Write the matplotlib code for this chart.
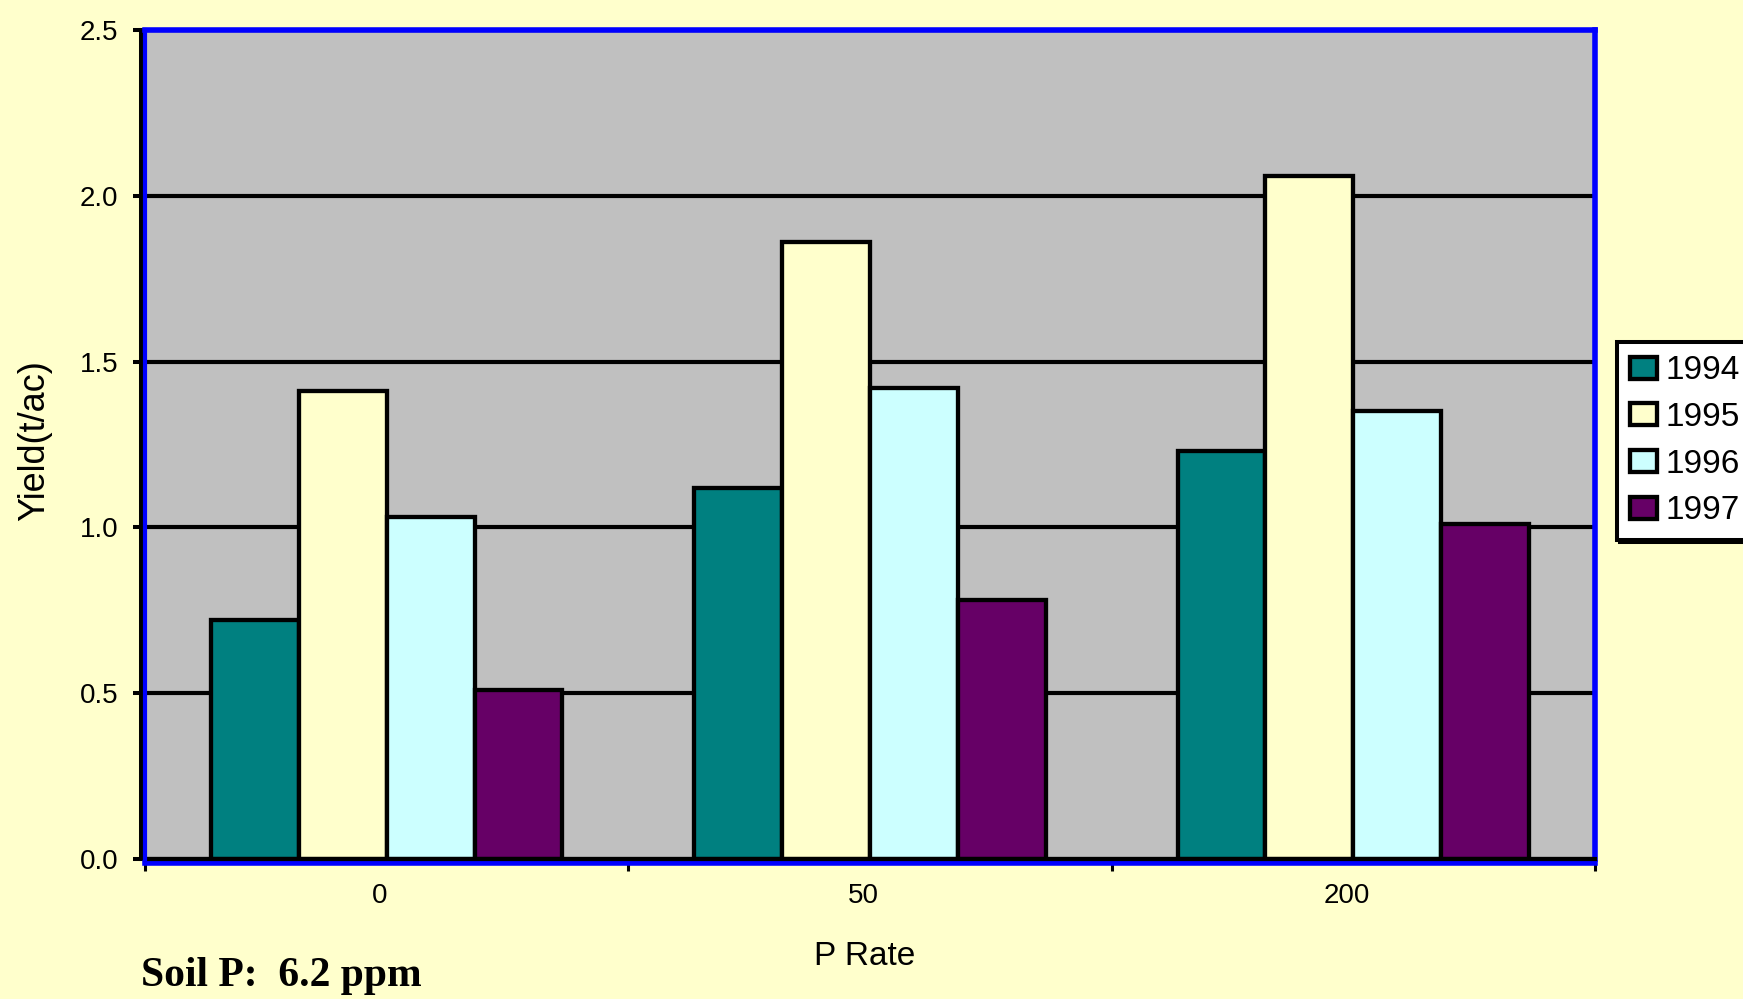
import numpy as np
import matplotlib
matplotlib.use("Agg")
import matplotlib.pyplot as plt
from matplotlib.ticker import FixedLocator, FixedFormatter
from matplotlib.transforms import ScaledTranslation

plt.rcParams['font.family'] = ['Liberation Sans', 'DejaVu Sans']

# yield by P rate, one list per season
p_rates = ['0', '50', '200']
years = ['1994', '1995', '1996', '1997']
y1994 = [0.72, 1.12, 1.23]
y1995 = [1.41, 1.86, 2.06]
y1996 = [1.03, 1.42, 1.35]
y1997 = [0.51, 0.78, 1.01]
bar_colors = ['#008080', '#FFFFCC', '#CCFFFF', '#660066']
y_ticks = [0.0, 0.5, 1.0, 1.5, 2.0, 2.5]

W, H = 1743, 999
fig = plt.figure(figsize=(W / 100, H / 100), dpi=100, facecolor='#FFFFCC')
ax = fig.add_axes([145 / W, 1 - 859 / H, (1595 - 145) / W, (859 - 30) / H])
ax.set_facecolor('#C0C0C0')

series = [y1994, y1995, y1996, y1997]
x = np.arange(len(p_rates))
w = 1 / 5.5
for i, (vals, yr, col) in enumerate(zip(series, years, bar_colors)):
    ax.bar(x + (i - 1.5) * w, vals, width=w, color=col, edgecolor='black',
           linewidth=3.1, label=yr, zorder=2)

ax.set_xlim(-0.5, 2.5)
ax.set_ylim(0, 2.5)

# gridlines and axis line
ax.set_axisbelow(True)
ax.yaxis.grid(True, color='black', linewidth=3.0)
ax.axhline(0, color='black', linewidth=3.0, clip_on=False, zorder=3)

# plot area border
for side in ['top', 'right', 'bottom']:
    ax.spines[side].set_color('#0000FF')
    ax.spines[side].set_linewidth(4)
ax.spines['bottom'].set_position(('outward', 3.2))
ax.spines['left'].set_color('black')
ax.spines['left'].set_linewidth(2.9)
ax.spines['left'].set_position(('outward', 3))
ax.plot([0, 0], [0, 1], transform=ax.transAxes, color='#0000FF', lw=3,
        clip_on=False, zorder=4)

ax.set_yticks(y_ticks)
ax.set_yticklabels(['%.1f' % t for t in y_ticks])
ax.tick_params(axis='y', direction='out', length=6, width=2.9, pad=10,
               labelsize=20, color='black')

ax.xaxis.set_major_locator(FixedLocator(x))
ax.xaxis.set_major_formatter(FixedFormatter(p_rates))
ax.xaxis.set_minor_locator(FixedLocator([-0.5, 0.5, 1.5, 2.5]))
ax.tick_params(axis='x', which='major', length=0, pad=14, labelsize=20)
ax.tick_params(axis='x', which='minor', direction='out', length=6, width=2.2,
               color='black')
shift = ScaledTranslation(-7 / 100, 0, fig.dpi_scale_trans)
for lab in ax.get_xticklabels():
    lab.set_transform(lab.get_transform() + shift)

fig.text(35 / W, 1 - 441 / H, 'Yield(t/ac)', rotation=90, ha='center',
         va='center', fontsize=26)
fig.text(865 / W, 1 - 965 / H, 'P Rate', ha='center', va='baseline',
         fontsize=24)
fig.text(141 / W, 1 - 986 / H, 'Soil P:  6.2 ppm', ha='left', va='baseline',
         fontsize=30, fontweight='bold', family='Liberation Serif')

leg = ax.legend(loc='upper left', bbox_to_anchor=(1617 / W, 1 - 342 / H),
                bbox_transform=fig.transFigure, borderaxespad=0,
                fontsize=24, frameon=True, fancybox=False, framealpha=1,
                facecolor='white', edgecolor='black', borderpad=0.4,
                labelspacing=0.47, handlelength=0.8, handleheight=0.63,
                handletextpad=0.25, shadow={'color': 'black', 'alpha': 1})
leg.get_frame().set_linewidth(2.9)

fig.savefig('out.png', dpi=100, facecolor=fig.get_facecolor())
